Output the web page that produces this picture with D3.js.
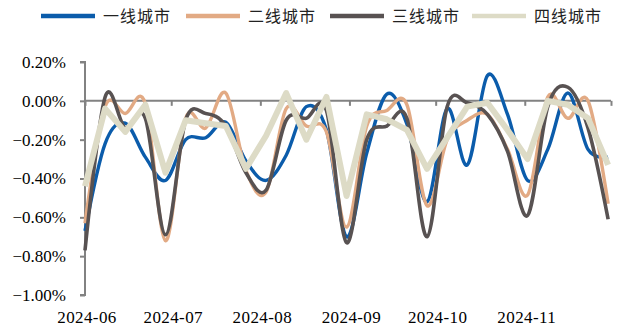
<!DOCTYPE html>
<html>
<head>
<meta charset="utf-8">
<script src="https://cdn.jsdelivr.net/npm/d3@7"></script>
<style>
  html, body { margin: 0; padding: 0; background: #fff; }
  svg { display: block; }
</style>
</head>
<body>
<svg id="chart" width="617" height="325"></svg>
<script>
// Weekly observation dates
const dates = [
  "2024-06-01","2024-06-08","2024-06-15","2024-06-22","2024-06-29",
  "2024-07-06","2024-07-13","2024-07-20","2024-07-27",
  "2024-08-03","2024-08-10","2024-08-17","2024-08-24","2024-08-31",
  "2024-09-07","2024-09-14","2024-09-21","2024-09-28",
  "2024-10-05","2024-10-12","2024-10-19","2024-10-26",
  "2024-11-02","2024-11-09","2024-11-16","2024-11-23","2024-11-30"
];

// Series names
const seriesNames = ["一线城市", "二线城市", "三线城市", "四线城市"];

// Week-on-week change, %
const tier1 = [-0.67,-0.22,-0.115,-0.29,-0.41,-0.20,-0.19,-0.11,-0.31,-0.41,-0.28,-0.03,-0.15,-0.70,-0.27,0.035,-0.12,-0.52,-0.04,-0.33,0.13,-0.07,-0.41,-0.25,0.04,-0.25,-0.29];
const tier2 = [-0.63,-0.03,-0.065,-0.015,-0.72,-0.09,-0.14,0.04,-0.36,-0.47,-0.04,-0.13,-0.16,-0.65,-0.13,-0.05,-0.02,-0.54,-0.20,-0.10,-0.07,-0.25,-0.485,0.02,-0.09,0.00,-0.53];
const tier3 = [-0.77,0.02,-0.14,-0.09,-0.69,-0.10,-0.065,-0.13,-0.37,-0.46,-0.10,-0.09,-0.05,-0.73,-0.20,-0.13,-0.09,-0.70,-0.03,-0.01,-0.07,-0.26,-0.59,-0.03,0.07,-0.14,-0.61];
const tier4 = [-0.44,-0.04,-0.16,-0.02,-0.37,-0.10,-0.115,-0.13,-0.35,-0.18,0.04,-0.20,0.02,-0.49,-0.07,-0.095,-0.15,-0.35,-0.19,-0.03,-0.01,-0.15,-0.30,0.00,-0.02,-0.09,-0.33];

// Axis ticks
const yTicks = [0.2, 0, -0.2, -0.4, -0.6, -0.8, -1.0];
const monthTicks = ["2024-06-01","2024-07-01","2024-08-01","2024-09-01","2024-10-01","2024-11-01","2024-12-01"];
const monthLabels = ["2024-06","2024-07","2024-08","2024-09","2024-10","2024-11",""];

const colors = ["#0b5cab", "#e2aa84", "#585252", "#dddbc6"];
const widths = [3.4, 3.4, 3.6, 6];
const smooth = [true, true, true, false];

const parse = d3.timeParse("%Y-%m-%d");
const svg = d3.select("#chart");

const x = d3.scaleTime()
  .domain([parse("2024-06-01"), parse("2024-12-01")])
  .range([85, 611]);
const y = d3.scaleLinear().domain([-1.0, 0.2]).range([295, 62]);

const axisColor = "#828282";
const serif = "'Liberation Serif', 'Times New Roman', serif";

// Y axis on the left
const yAxis = svg.append("g")
  .attr("transform", "translate(85,0)")
  .call(d3.axisLeft(y).tickValues(yTicks).tickSize(5).tickPadding(14)
    .tickFormat(d => d3.format(".2f")(d) + "%"));
yAxis.select(".domain").attr("stroke", axisColor).attr("stroke-width", 2)
  .attr("d", `M-5,${y(0.2)}H0V${y(-1.0)}H-5`);
yAxis.selectAll(".tick line").attr("stroke", axisColor).attr("stroke-width", 2);
yAxis.selectAll(".tick text")
  .attr("fill", "#000").style("font-family", serif).style("font-size", "17px");

// X axis running along zero, labels at the bottom
const xAxis = svg.append("g")
  .attr("transform", `translate(0,${y(0)})`)
  .call(d3.axisBottom(x).tickValues(monthTicks.map(parse)).tickSize(5).tickFormat(() => ""));
xAxis.select(".domain").attr("stroke", axisColor).attr("stroke-width", 2)
  .attr("d", `M${x.range()[0]},0H${x.range()[1]}`);
xAxis.selectAll(".tick line").attr("stroke", axisColor).attr("stroke-width", 2);

svg.append("g").selectAll("text")
  .data(monthTicks.map((d, i) => ({ d: parse(d), label: monthLabels[i] })))
  .join("text")
  .attr("x", d => x(d.d) + 2)
  .attr("y", 322.5)
  .attr("text-anchor", "middle")
  .style("font-family", serif)
  .style("font-size", "17px")
  .style("letter-spacing", "0.4px")
  .attr("fill", "#000")
  .text(d => d.label);

// Lines
const allSeries = [tier1, tier2, tier3, tier4];
const pts = dates.map(parse);
allSeries.forEach((vals, i) => {
  const line = d3.line()
    .x((d, j) => x(pts[j]))
    .y(d => y(d))
    .curve(smooth[i] ? d3.curveCardinal.tension(0) : d3.curveLinear);
  svg.append("path")
    .datum(vals)
    .attr("fill", "none")
    .attr("stroke", colors[i])
    .attr("stroke-width", widths[i])
    .attr("stroke-linejoin", "round")
    .attr("d", line);
});

// Legend
const legendX = [41, 186, 330, 472];
const legend = svg.append("g");
seriesNames.forEach((name, i) => {
  legend.append("line")
    .attr("x1", legendX[i]).attr("x2", legendX[i] + 54)
    .attr("y1", 16).attr("y2", 16)
    .attr("stroke", colors[i]).attr("stroke-width", 4.5);
  legend.append("text")
    .attr("x", legendX[i] + 62).attr("y", 22)
    .style("font-family", "'Noto Sans CJK SC', sans-serif")
    .style("font-size", "16px")
    .style("letter-spacing", "1px")
    .attr("fill", "#222")
    .text(name);
});
</script>
</body>
</html>
